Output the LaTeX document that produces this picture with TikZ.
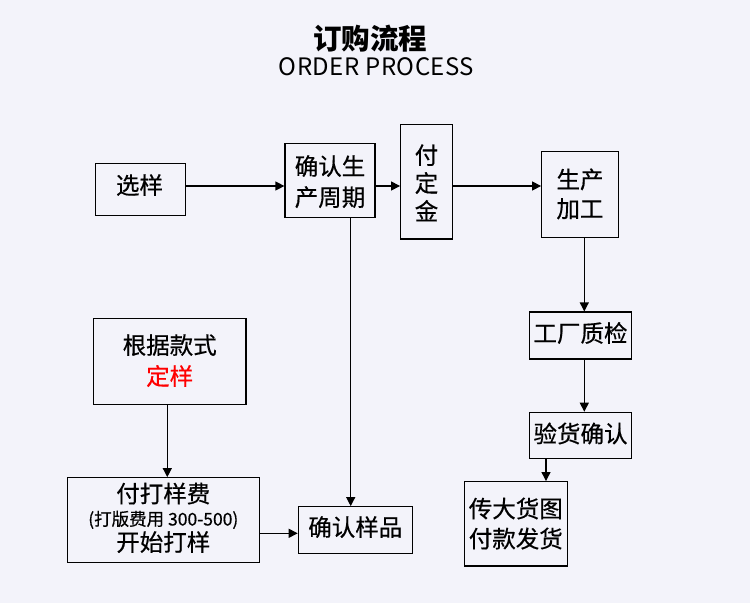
\documentclass[tikz,border=0pt]{standalone}
\usepackage{fontspec}
\setmainfont{Noto Sans CJK SC}
\newfontfamily\boxfont{Noto Sans CJK SC}[FakeBold=0.5]
\usetikzlibrary{arrows.meta}
\definecolor{bg}{RGB}{243,243,250}
\definecolor{redtxt}{RGB}{255,0,0}
\begin{document}
\begin{tikzpicture}[x=1pt,y=-1pt,
  box/.style={draw=black,line width=1.2pt,inner sep=0pt},
  txt/.style={inner sep=0pt,text height=1.0em,text depth=0em,font=\boxfont\fontsize{23.5}{23.5}\selectfont},
  small/.style={txt,font=\boxfont\fontsize{17.5}{17.5}\selectfont},
  arr/.style={line width=1.2pt,-{Triangle[length=9pt,width=9pt]}}]
\fill[bg] (0,0) rectangle (750,603);
\useasboundingbox (0,0) rectangle (750,603);
% title
\node[font=\bfseries\fontsize{28.5}{28.5}\selectfont] (t1) at (370,39) {订购流程};
\node[font=\fontsize{24}{24}\selectfont\addfontfeature{LetterSpace=2}] (t2) at (376.5,67) {ORDER PROCESS};
% boxes
\node[box,minimum width=90pt,minimum height=52pt] (xy) at (140.5,189.5) {};
\node[box,minimum width=90pt,minimum height=74pt] (qr) at (330,180.3) {};
\node[box,minimum width=51.6pt,minimum height=114.7pt] (fd) at (426.5,181.7) {};
\node[box,minimum width=76.6pt,minimum height=85.6pt] (sc) at (580,194.5) {};
\node[box,minimum width=102.4pt,minimum height=47pt] (zj) at (580.5,335.5) {};
\node[box,minimum width=102.4pt,minimum height=46pt] (yh) at (580.5,435.3) {};
\node[box,minimum width=103pt,minimum height=84.3pt] (cd) at (515.8,523.8) {};
\node[box,minimum width=152.7pt,minimum height=86pt] (gj) at (169.7,361.3) {};
\node[box,minimum width=192pt,minimum height=84.6pt] (fy) at (163.3,520) {};
\node[box,minimum width=114pt,minimum height=46.6pt] (qp) at (355.3,530) {};
% texts
\node[txt] (xyA) at (139.5,189) {选样};
\node[txt] (qrA) at (330,170) {确认生};
\node[txt] (qrB) at (330,201) {产周期};
\node[txt] (fdA) at (426.5,159) {付};
\node[txt] (fdB) at (426.5,187) {定};
\node[txt] (fdC) at (426.5,215) {金};
\node[txt] (scA) at (580,183.3) {生产};
\node[txt] (scB) at (580,212.5) {加工};
\node[txt] (zjA) at (580.5,337) {工厂质检};
\node[txt] (yhA) at (580.5,437.5) {验货确认};
\node[txt] (cdA) at (515.8,512.5) {传大货图};
\node[txt] (cdB) at (515.8,542.5) {付款发货};
\node[txt] (gjA) at (169.7,349) {根据款式};
\node[txt,text=redtxt] (gjB) at (169.7,380) {定样};
\node[txt] (fyA) at (163.3,497.5) {付打样费};
\node[small] (fyB) at (163.3,520.5) {(打版费用 300-500)};
\node[txt] (fyC) at (163.3,546) {开始打样};
\node[txt] (qpA) at (355.3,531) {确认样品};
% helper coordinates
\coordinate (r1) at (0,186);
\coordinate (c2) at (584.3,0);
\coordinate (c3) at (546,0);
\coordinate (c4) at (167.3,0);
\coordinate (c5) at (350.7,0);
\coordinate (r2) at (0,533.3);
% connectors
\draw[arr] (xy.east |- r1) -- (qr.west |- r1);
\draw[arr] (qr.east |- r1) -- (fd.west |- r1);
\draw[arr] (fd.east |- r1) -- (sc.west |- r1);
\draw[arr] (sc.south -| c2) -- (zj.north -| c2);
\draw[arr] (zj.south -| c2) -- (yh.north -| c2);
\draw[arr] (yh.south -| c3) -- (cd.north -| c3);
\draw[arr] (gj.south -| c4) -- (fy.north -| c4);
\draw[arr] (fy.east |- r2) -- (qp.west |- r2);
\draw[arr] (qr.south -| c5) -- (qp.north -| c5);
\end{tikzpicture}
\end{document}
